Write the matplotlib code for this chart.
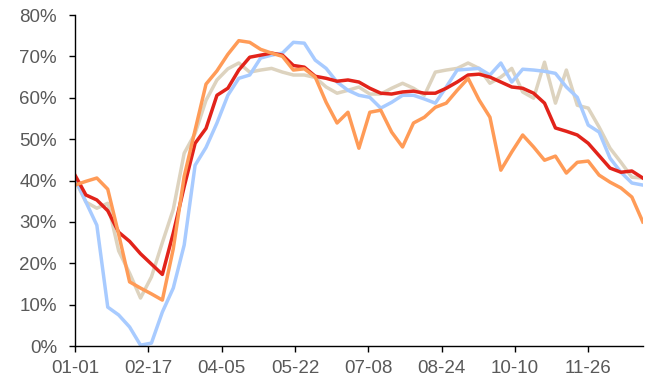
import numpy as np
import matplotlib.pyplot as plt
from matplotlib.ticker import PercentFormatter

plt.rcParams['font.family'] = ['Liberation Sans', 'DejaVu Sans']

# weekly readings, week 0 = 01-01
red = [41.3, 36.5, 35.3, 32.7, 27.5, 25.3, 22.3, 19.8, 17.3, 27.3,
       38.5, 49.0, 52.6, 60.6, 62.3, 66.7, 69.8, 70.3, 70.8, 70.3,
       67.8, 67.4, 65.2, 64.7, 64.0, 64.3, 63.8, 62.3, 61.1, 60.9,
       61.4, 61.6, 61.1, 61.1, 62.3, 63.8, 65.5, 65.7, 65.0, 63.8,
       62.6, 62.3, 61.1, 58.7, 52.7, 51.9, 51.0, 49.0, 46.0, 43.0,
       42.0, 42.3, 40.6]
blue = [40.6, 34.8, 29.2, 9.4, 7.5, 4.6, 0.2, 0.7, 8.2, 14.0,
        24.4, 43.7, 48.0, 53.9, 60.6, 64.7, 65.5, 69.6, 70.3, 70.8,
        73.4, 73.2, 69.1, 67.1, 63.8, 61.8, 60.6, 60.1, 57.5, 58.9,
        60.6, 60.6, 59.7, 58.7, 62.6, 66.7, 66.9, 67.1, 65.5, 68.4,
        63.8, 66.9, 66.7, 66.4, 65.9, 62.6, 60.1, 53.4, 51.7, 45.4,
        42.0, 39.4, 38.9]
beige = [40.1, 34.8, 33.3, 34.5, 23.0, 17.6, 11.6, 16.7, 25.0, 33.0,
         46.6, 51.4, 59.4, 64.3, 67.0, 68.4, 66.2, 66.7, 67.1, 66.2,
         65.5, 65.5, 64.9, 62.6, 61.1, 61.8, 62.6, 60.9, 60.9, 62.3,
         63.5, 62.3, 60.6, 66.2, 66.7, 67.1, 68.4, 67.1, 63.5, 65.0,
         67.1, 61.4, 59.9, 68.6, 58.7, 66.7, 58.2, 57.5, 52.9, 47.8,
         44.4, 40.8, 40.6]
orange = [38.9, 39.8, 40.6, 37.9, 27.0, 15.5, 14.0, 12.6, 11.1, 23.5,
          41.0, 52.2, 63.3, 66.5, 70.5, 73.8, 73.4, 71.7, 70.8, 70.0,
          66.7, 67.0, 65.0, 58.9, 53.9, 56.5, 47.8, 56.5, 57.0, 51.7,
          48.1, 53.9, 55.3, 57.7, 58.7, 61.8, 64.7, 59.5, 55.3, 42.5,
          46.9, 51.0, 48.1, 44.9, 45.9, 41.8, 44.4, 44.7, 41.3, 39.6,
          38.2, 36.0, 30.0]

tick_days = [0, 47, 94, 141, 188, 235, 282, 329]
tick_labels = ["01-01", "02-17", "04-05", "05-22", "07-08", "08-24", "10-10", "11-26"]

days = np.arange(len(red)) * 7
text_col = "#595959"

fig = plt.figure(figsize=(6.51, 3.86), dpi=100)
ax = fig.add_axes([0.1152, 0.1036, 0.8722, 0.8575])

lw = 2.5
ax.plot(days, beige, color="#DDD3BF", lw=lw)
ax.plot(days, blue, color="#A8CBFF", lw=lw)
ax.plot(days, red, color="#E2231A", lw=lw)
ax.plot(days, orange, color="#FF9B57", lw=lw)

ax.set_xlim(0, days[-1])
ax.set_ylim(0, 80)
ax.set_yticks(np.arange(0, 81, 10))
ax.yaxis.set_major_formatter(PercentFormatter(decimals=0))
ax.set_xticks(tick_days)
ax.set_xticklabels(tick_labels)

for s in ["top", "right"]:
    ax.spines[s].set_visible(False)
for s in ["left", "bottom"]:
    ax.spines[s].set_linewidth(1.0)
    ax.spines[s].set_color("black")

ax.tick_params(axis="y", direction="out", length=4, width=1.0, pad=9,
               labelsize=13.5, labelcolor=text_col)
ax.tick_params(axis="x", direction="out", length=4, width=1.0, pad=6,
               labelsize=13.5, labelcolor=text_col)

plt.savefig("out.png", dpi=100)
